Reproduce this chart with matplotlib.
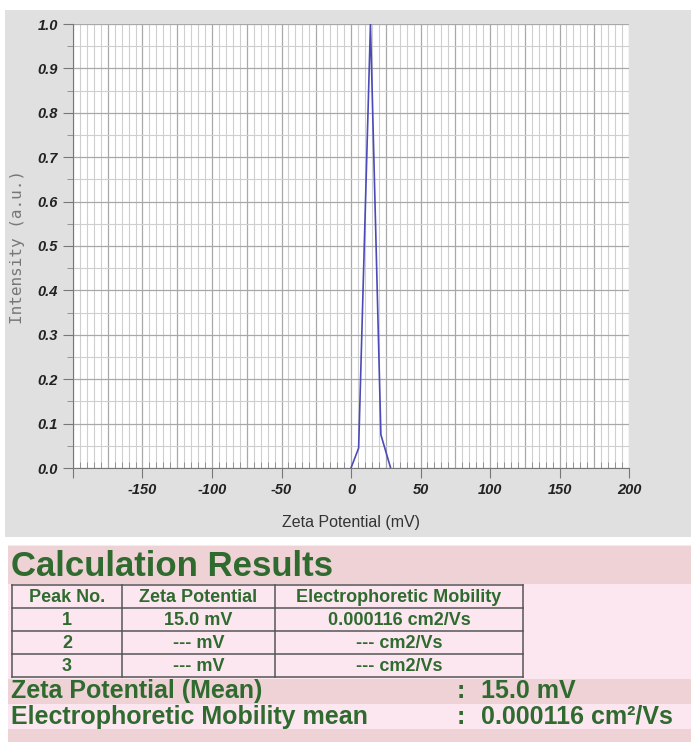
import matplotlib
matplotlib.use("Agg")
import matplotlib.pyplot as plt
from matplotlib.patches import Rectangle
from matplotlib.ticker import MultipleLocator, FuncFormatter

# zeta potential distribution
zeta_mv = [0, 5.5, 14, 21.5, 28.5]
intensity = [0, 0.045, 1.0, 0.075, 0]

# calculation results table
table_header = ["Peak No.", "Zeta Potential", "Electrophoretic Mobility"]
peak_no = ["1", "2", "3"]
peak_zeta = ["15.0 mV", "--- mV", "--- mV"]
peak_mobility = ["0.000116 cm2/Vs", "--- cm2/Vs", "--- cm2/Vs"]
mean_labels = ["Zeta Potential (Mean)", "Electrophoretic Mobility mean"]
mean_values = ["15.0 mV", "0.000116 cm\u00b2/Vs"]

W, H = 691, 742
fig = plt.figure(figsize=(W / 100, H / 100), dpi=100)
fig.patch.set_facecolor("white")


def px_rect(x0, y0, x1, y1, color):
    # rectangle in pixel coords (origin top-left)
    fig.patches.append(Rectangle((x0 / W, 1 - y1 / H), (x1 - x0) / W, (y1 - y0) / H,
                                 transform=fig.transFigure, facecolor=color,
                                 edgecolor="none", zorder=-5))


def px_text(x, y, s, **kw):
    fig.text(x / W, 1 - y / H, s, **kw)


# chart panel
px_rect(5, 10, 691, 537, "#e0e0e0")

ax = fig.add_axes([73 / W, 1 - 468 / H, (629 - 73) / W, (468 - 24) / H])
ax.set_zorder(2)
ax.set_facecolor("white")
ax.plot(zeta_mv, intensity, color="#4a4ab8", lw=1.2, zorder=3)
ax.set_xlim(-200, 200)
ax.set_ylim(0, 1.0)

ax.xaxis.set_major_locator(MultipleLocator(25))
ax.xaxis.set_minor_locator(MultipleLocator(5))
ax.yaxis.set_major_locator(MultipleLocator(0.1))
ax.yaxis.set_minor_locator(MultipleLocator(0.05))
ax.xaxis.set_major_formatter(FuncFormatter(
    lambda v, p: "%d" % v if (v % 50 == 0 and v > -200) else ""))
ax.yaxis.set_major_formatter(FuncFormatter(lambda v, p: "%.1f" % v))

ax.grid(which="major", color="#a8a8a8", lw=0.9)
ax.grid(which="minor", color="#cfcfcf", lw=0.8)
ax.set_axisbelow(True)

for s in ["top", "right"]:
    ax.spines[s].set_visible(False)
for s in ["left", "bottom"]:
    ax.spines[s].set_color("#777777")

ax.tick_params(which="major", direction="out", length=7, color="#777777",
               labelcolor="#222222", pad=4)
ax.tick_params(axis="x", which="minor", direction="in", length=4, color="#888888")
ax.tick_params(axis="y", which="minor", direction="out", length=4, color="#888888")
for lab in ax.get_xticklabels() + ax.get_yticklabels():
    lab.set_family("Liberation Sans")
    lab.set_weight("bold")
    lab.set_style("italic")
    lab.set_fontsize(10.5)

# only the labelled x ticks (every 50) get a long tick mark
for loc, tk in zip(ax.xaxis.get_majorticklocs(), ax.xaxis.get_major_ticks()):
    if loc % 50 != 0:
        tk.tick1line.set_markersize(0)

px_text(18, 247, "Intensity (a.u.)", family="DejaVu Sans Mono", size=11.5,
        color="#777777", rotation=90, ha="center", va="center")
px_text(351, 522, "Zeta Potential (mV)", family="Liberation Sans", size=11.5,
        color="#333333", ha="center", va="center")

# calculation results panel
pink_light = "#fce7f1"
pink_dark = "#eed2d6"
green = "#2f6a2f"
px_rect(8, 545, 691, 742, pink_light)
px_rect(8, 546, 691, 584, pink_dark)
px_rect(8, 679, 691, 704, pink_dark)
px_rect(8, 729, 691, 742, pink_dark)

px_text(11, 566, "Calculation Results", family="Liberation Sans", weight="bold",
        size=25, color=green, ha="left", va="center")

col_x = [12, 122, 275, 523]
row_y = [585, 608, 631, 654, 677]
border = "#555555"
for x in col_x:
    fig.add_artist(plt.Line2D([x / W, x / W], [1 - row_y[0] / H, 1 - row_y[-1] / H],
                              transform=fig.transFigure, color=border, lw=1.1))
for y in row_y:
    fig.add_artist(plt.Line2D([col_x[0] / W, col_x[-1] / W], [1 - y / H, 1 - y / H],
                              transform=fig.transFigure, color=border, lw=1.1))

cell_font = dict(family="Liberation Sans", weight="bold", size=13, color=green,
                 ha="center", va="center")
rows = [table_header] + [list(r) for r in zip(peak_no, peak_zeta, peak_mobility)]
for i, row in enumerate(rows):
    yc = (row_y[i] + row_y[i + 1]) / 2 + 1
    for j, txt in enumerate(row):
        xc = (col_x[j] + col_x[j + 1]) / 2
        px_text(xc, yc, txt, **cell_font)

mean_y = [691, 717]
for lab, val, y in zip(mean_labels, mean_values, mean_y):
    px_text(11, y, lab, family="Liberation Sans", weight="bold", size=18,
            color=green, ha="left", va="center")
    px_text(457, y, ":", family="Liberation Sans", weight="bold", size=18,
            color=green, ha="left", va="center")
    px_text(481, y, val, family="Liberation Sans", weight="bold", size=18,
            color=green, ha="left", va="center")

fig.savefig("out.png", dpi=100)
